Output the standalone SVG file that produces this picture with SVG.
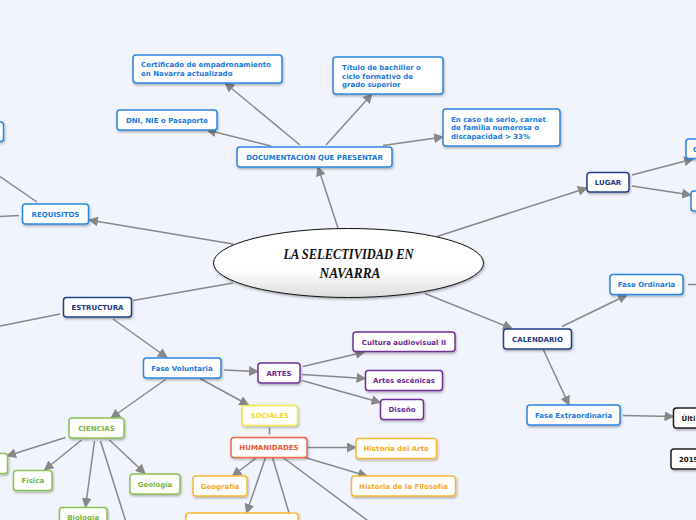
<svg xmlns="http://www.w3.org/2000/svg" width="696" height="520" viewBox="0 0 696 520">
<defs>
<linearGradient id="eg" x1="0" y1="0" x2="0" y2="1">
<stop offset="0" stop-color="#ffffff"/>
<stop offset="0.6" stop-color="#ffffff"/>
<stop offset="1" stop-color="#dcdcdc"/>
</linearGradient>
<filter id="sh" x="-20%" y="-30%" width="140%" height="170%">
<feDropShadow dx="0.8" dy="1.5" stdDeviation="0.8" flood-color="#000" flood-opacity="0.3"/>
</filter>
<marker id="ar" markerUnits="userSpaceOnUse" markerWidth="10" markerHeight="10" viewBox="0 0 10 10" refX="9" refY="5" orient="auto">
<path d="M0,0 L10,5 L0,10 z" fill="#888"/>
</marker>
<style>
.n rect{fill:#fff;stroke-width:1.5;filter:url(#sh)}
.n text{font-family:"DejaVu Sans",Verdana,sans-serif;font-weight:bold;font-size:7px}
.c{text-anchor:middle}
.blue rect{stroke:#2b86e0}.blue text{fill:#1a78dc}
.navy rect{stroke:#223f86}.navy text{fill:#1f3a80}
.pur rect{stroke:#6f3399}.pur text{fill:#6a2c91}
.grn rect{stroke:#8cc152}.grn text{fill:#7cb342}
.yel rect{stroke:#f2e54a}.yel text{fill:#eedb22}
.org rect{stroke:#f06a4a}.org text{fill:#e8552f}
.gld rect{stroke:#f7b933}.gld text{fill:#f5a81c}
.blk rect{stroke:#222}.blk text{fill:#111}
#links line{stroke:#888;stroke-width:1.5;fill:none}
.a{marker-end:url(#ar)}
</style>
</defs>
<rect width="696" height="520" fill="#f1f4fd"/>
<g id="links">
<line class="a" x1="338" y1="228" x2="318" y2="167"/>
<line class="a" x1="300" y1="145" x2="225" y2="83"/>
<line class="a" x1="326" y1="145" x2="372" y2="94"/>
<line class="a" x1="271" y1="146" x2="207" y2="130"/>
<line class="a" x1="383" y1="145.5" x2="443" y2="137"/>
<line class="a" x1="233" y1="244" x2="89" y2="220"/>
<line x1="37" y1="202" x2="0" y2="176.5"/>
<line x1="0" y1="216.5" x2="19" y2="215.5"/>
<line x1="233" y1="283" x2="133" y2="300.5"/>
<line x1="60" y1="314" x2="0" y2="326"/>
<line class="a" x1="113" y1="319" x2="167" y2="357.5"/>
<line class="a" x1="224" y1="370" x2="258" y2="371.5"/>
<line class="a" x1="303" y1="366.5" x2="364.5" y2="352"/>
<line class="a" x1="302" y1="374.5" x2="365.5" y2="378.5"/>
<line class="a" x1="302" y1="380.5" x2="380.5" y2="402.5"/>
<line class="a" x1="200" y1="378.5" x2="248.5" y2="405"/>
<line x1="269.5" y1="427.5" x2="269.5" y2="434.5"/>
<line class="a" x1="307.5" y1="447.5" x2="356" y2="447.5"/>
<line class="a" x1="305" y1="457.5" x2="367" y2="476"/>
<line class="a" x1="256" y1="458" x2="232.5" y2="476"/>
<line class="a" x1="265.5" y1="457.5" x2="246.5" y2="513"/>
<line x1="272.5" y1="457.5" x2="289" y2="513"/>
<line x1="283" y1="457.5" x2="375" y2="526"/>
<line class="a" x1="165.5" y1="379.5" x2="111" y2="418"/>
<line class="a" x1="65.5" y1="437.5" x2="7" y2="456"/>
<line class="a" x1="81.5" y1="440" x2="44.5" y2="470"/>
<line class="a" x1="109.5" y1="440" x2="145" y2="473.5"/>
<line class="a" x1="94.5" y1="441" x2="85.5" y2="507"/>
<line x1="100.5" y1="441" x2="126" y2="522"/>
<line class="a" x1="437" y1="236.5" x2="587" y2="188"/>
<line class="a" x1="632" y1="175" x2="693" y2="159"/>
<line class="a" x1="632" y1="186" x2="691" y2="195"/>
<line class="a" x1="425" y1="293.5" x2="512" y2="328.5"/>
<line class="a" x1="562" y1="326.5" x2="627" y2="295"/>
<line x1="688" y1="284.5" x2="696" y2="284.5"/>
<line class="a" x1="543.5" y1="350" x2="569" y2="405"/>
<line class="a" x1="623" y1="415.5" x2="673.5" y2="416.5"/>
</g>
<g id="central">
<ellipse cx="348.5" cy="263" rx="135" ry="34.5" fill="url(#eg)" stroke="#111" stroke-width="1" filter="url(#sh)"/>
<text x="348.5" y="258.5" text-anchor="middle" font-family="'Liberation Serif',serif" font-weight="bold" font-style="italic" font-size="15" fill="#111" textLength="130" lengthAdjust="spacingAndGlyphs">LA SELECTIVIDAD EN</text>
<text x="350" y="277.5" text-anchor="middle" font-family="'Liberation Serif',serif" font-weight="bold" font-style="italic" font-size="15" fill="#111" textLength="61" lengthAdjust="spacingAndGlyphs">NAVARRA</text>
</g>
<g id="doc" class="n blue"><rect x="237" y="147" width="155" height="20" rx="3"/><text class="c" x="314.5" y="159.5">DOCUMENTACIÓN QUE PRESENTAR</text></g>
<g id="cert" class="n blue"><rect x="133" y="55" width="149" height="28" rx="3"/><text x="141" y="66.8">Certificado de empadronamiento</text><text x="141" y="75.8">en Navarra actualizado</text></g>
<g id="titulo" class="n blue"><rect x="333" y="57" width="110" height="37" rx="3"/><text x="342" y="69.8">Título de bachiller o</text><text x="342" y="78.6">ciclo formativo de</text><text x="342" y="87.3">grado superior</text></g>
<g id="dni" class="n blue"><rect x="117" y="110" width="100" height="20" rx="3"/><text class="c" x="167" y="122.8">DNI, NIE o Pasaporte</text></g>
<g id="caso" class="n blue"><rect x="443" y="109" width="117" height="37" rx="3"/><text x="451" y="121.5">En caso de serio, carnet</text><text x="451" y="130.3">de familia numerosa o</text><text x="451" y="139">discapacidad &gt; 33%</text></g>
<g id="req" class="n blue"><rect x="22.5" y="204" width="66" height="20" rx="3"/><text class="c" x="55.5" y="216.5">REQUISITOS</text></g>
<g id="reqchild" class="n blue"><rect x="-80" y="122" width="83.5" height="19.5" rx="3"/></g>
<g id="estr" class="n navy"><rect x="63.5" y="297.5" width="68" height="19.5" rx="3"/><text class="c" x="97.5" y="309.7">ESTRUCTURA</text></g>
<g id="fvol" class="n blue"><rect x="143.5" y="358" width="77.5" height="20" rx="3"/><text class="c" x="182" y="370.5">Fase Voluntaria</text></g>
<g id="artes" class="n pur"><rect x="258" y="363" width="42" height="20" rx="3"/><text class="c" x="279" y="375.5">ARTES</text></g>
<g id="cult" class="n pur"><rect x="353" y="332" width="102" height="19.5" rx="3"/><text class="c" x="404" y="344.5">Cultura audiovisual II</text></g>
<g id="esc" class="n pur"><rect x="365.5" y="370.5" width="77" height="20" rx="3"/><text class="c" x="404" y="383">Artes escénicas</text></g>
<g id="dis" class="n pur"><rect x="380.5" y="399.5" width="43" height="20" rx="3"/><text class="c" x="402" y="412">Diseño</text></g>
<g id="soc" class="n yel"><rect x="242" y="405.5" width="55.5" height="20" rx="3"/><text class="c" x="269.8" y="418">SOCIALES</text></g>
<g id="hum" class="n org"><rect x="231" y="437.5" width="76" height="20" rx="3"/><text class="c" x="269" y="450">HUMANIDADES</text></g>
<g id="harte" class="n gld"><rect x="356" y="438.5" width="80.5" height="20" rx="3"/><text class="c" x="396.2" y="451">Historia del Arte</text></g>
<g id="hfilo" class="n gld"><rect x="351.5" y="476" width="104" height="20" rx="3"/><text class="c" x="403.5" y="488.5">Historia de la Filosofía</text></g>
<g id="geog" class="n gld"><rect x="193" y="476" width="54" height="20" rx="3"/><text class="c" x="220" y="488.5">Geografía</text></g>
<g id="humchild" class="n gld"><rect x="186" y="513" width="112" height="20" rx="3"/></g>
<g id="cien" class="n grn"><rect x="69" y="418" width="55" height="20" rx="3"/><text class="c" x="96.5" y="430.5">CIENCIAS</text></g>
<g id="cienchild" class="n grn"><rect x="-50" y="453.5" width="57.5" height="20" rx="3"/></g>
<g id="fis" class="n grn"><rect x="13.5" y="470.5" width="38.5" height="20" rx="3"/><text class="c" x="32.8" y="483">Física</text></g>
<g id="geol" class="n grn"><rect x="130" y="474" width="50" height="20" rx="3"/><text class="c" x="155" y="486.5">Geología</text></g>
<g id="bio" class="n grn"><rect x="59.5" y="507.5" width="47.5" height="20" rx="3"/><text class="c" x="83.2" y="520">Biología</text></g>
<g id="lugar" class="n navy"><rect x="587" y="172.5" width="42" height="19.5" rx="3"/><text class="c" x="608" y="184.8">LUGAR</text></g>
<g id="lug1" class="n blue"><rect x="686" y="139" width="40" height="19.5" rx="3"/><text x="693" y="151.5">C</text></g>
<g id="lug2" class="n blue"><rect x="691" y="191" width="40" height="20" rx="3"/></g>
<g id="cal" class="n navy"><rect x="503.5" y="329" width="68" height="20" rx="3"/><text class="c" x="537.5" y="341.5">CALENDARIO</text></g>
<g id="ford" class="n blue"><rect x="610" y="274.5" width="73" height="20" rx="3"/><text class="c" x="646.5" y="287">Fase Ordinaria</text></g>
<g id="fext" class="n blue"><rect x="527" y="405" width="93" height="20" rx="3"/><text class="c" x="573.5" y="417.5">Fase Extraordinaria</text></g>
<g id="ulti" class="n blk"><rect x="673.5" y="408" width="40" height="20" rx="3"/><text x="681.5" y="420.5">Últi</text></g>
<g id="y2019" class="n blk"><rect x="671" y="449" width="40" height="20" rx="3"/><text x="679" y="461.5">2019</text></g>
</svg>
